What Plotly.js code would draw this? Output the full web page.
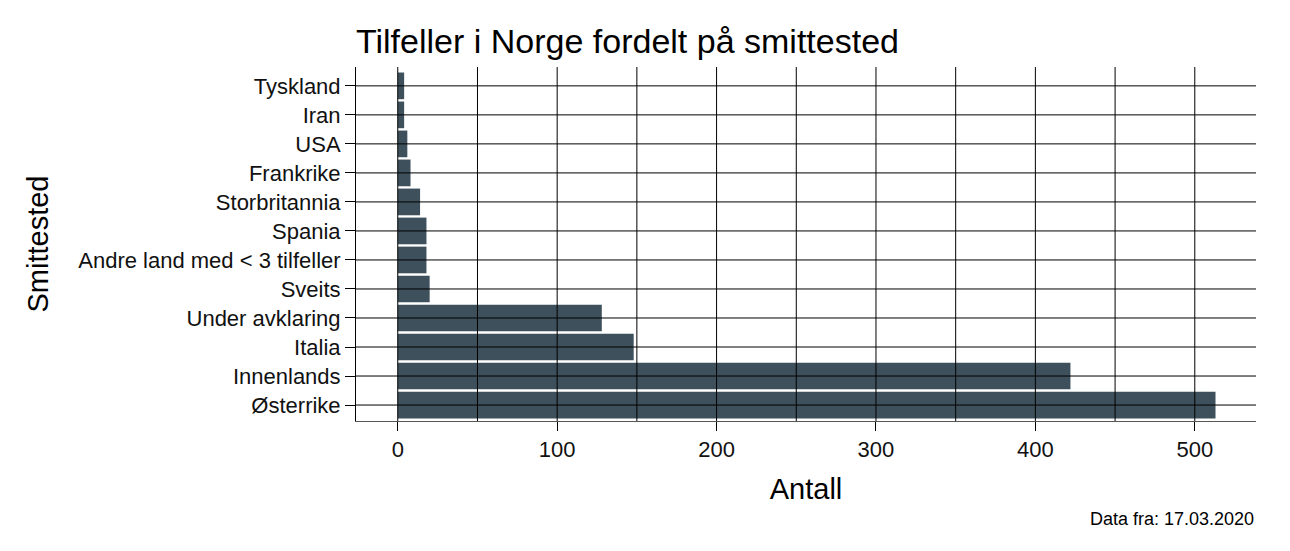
<!DOCTYPE html>
<html>
<head>
<meta charset="utf-8">
<script src="https://cdn.plot.ly/plotly-3.0.1.min.js"></script>
<style>
  html, body { margin: 0; padding: 0; background: #fff; }
  #graph { width: 1290px; height: 551px; }
</style>
</head>
<body>
<div id="graph"></div>
<script>
// bottom to top, as drawn
let smittested = ["Østerrike", "Innenlands", "Italia", "Under avklaring", "Sveits",
    "Andre land med < 3 tilfeller", "Spania", "Storbritannia", "Frankrike", "USA", "Iran", "Tyskland"];
let antall = [513, 422, 148, 128, 20, 18, 18, 14, 8, 6, 4, 4];

let xTicks = [0, 100, 200, 300, 400, 500];
let xGrid = [0, 50, 100, 150, 200, 250, 300, 350, 400, 450, 500];

let font = "Liberation Sans, Arial, sans-serif";
let barColor = "#3E505B";

function plot() {
    let bars = {
        type: "bar",
        orientation: "h",
        x: antall,
        y: smittested,
        marker: { color: barColor, line: { width: 0 } },
        hoverinfo: "x+y"
    };

    // grid is drawn over the bars in the original, so use shapes on the top layer
    let shapes = [];
    xGrid.forEach(v => {
        shapes.push({
            type: "line", layer: "above",
            xref: "x", yref: "paper",
            x0: v, x1: v, y0: 0, y1: 1,
            line: { color: "#000", width: 1 }
        });
    });
    smittested.forEach(c => {
        shapes.push({
            type: "line", layer: "above",
            xref: "paper", yref: "y",
            x0: 0, x1: 1, y0: c, y1: c,
            line: { color: "#000", width: 1 }
        });
    });

    let layout = {
        width: 1290,
        height: 551,
        paper_bgcolor: "#fff",
        plot_bgcolor: "#fff",
        font: { family: font, color: "#000" },
        margin: { l: 356, r: 34, t: 67, b: 130 },
        bargap: 0.08,
        showlegend: false,
        title: {
            text: "Tilfeller i Norge fordelt på smittested",
            font: { size: 34, color: "#000" },
            x: 0, xref: "paper", xanchor: "left",
            y: 1 - 41 / 551, yref: "container", yanchor: "middle"
        },
        xaxis: {
            range: [-26.2, 538.4],
            tickvals: xTicks,
            ticks: "outside",
            ticklen: 9,
            tickcolor: "#000",
            tickfont: { size: 22, color: "#111" },
            showgrid: false,
            zeroline: false,
            showline: true,
            linecolor: "#555",
            linewidth: 1,
            title: { text: "Antall", font: { size: 29, color: "#000" }, standoff: 17 },
            fixedrange: true
        },
        yaxis: {
            type: "category",
            categoryorder: "array",
            categoryarray: smittested,
            range: [-0.55, 11.65],
            ticks: "outside",
            ticklen: 10,
            tickcolor: "#000",
            tickfont: { size: 22, color: "#111" },
            showgrid: false,
            zeroline: false,
            showline: true,
            linecolor: "#000",
            linewidth: 1,
            title: { text: "Smittested", font: { size: 29, color: "#000" }, standoff: 21 },
            fixedrange: true
        },
        shapes: shapes,
        annotations: [{
            text: "Data fra: 17.03.2020",
            xref: "paper", yref: "paper",
            x: 1, y: (421 - 519) / 354,
            xanchor: "right", yanchor: "middle",
            showarrow: false,
            font: { size: 18, color: "#000" }
        }]
    };

    Plotly.newPlot("graph", [bars], layout, { displayModeBar: false, staticPlot: true });
}

plot();
</script>
</body>
</html>
